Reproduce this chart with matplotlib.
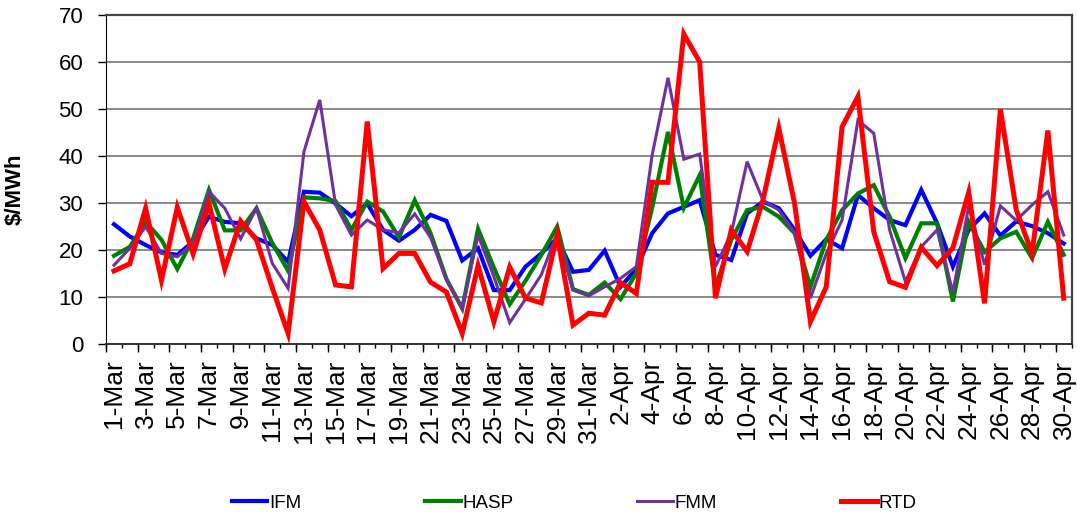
import matplotlib
matplotlib.use('Agg')
import matplotlib.pyplot as plt

plt.rcParams['font.family'] = ['Liberation Sans', 'DejaVu Sans']

# categories: daily, 1-Mar .. 30-Apr
DAYS = [f'{d}-Mar' for d in range(1, 32)] + [f'{d}-Apr' for d in range(1, 31)]

IFM = [25.5, 22.9, 21.1, 19.5, 19.0, 21.8, 27.1, 26.0, 25.7, 22.5, 21.1, 17.5, 32.4, 32.2,
       29.9, 27.2, 29.9, 24.3, 22.0, 24.3, 27.5, 26.2, 17.8, 20.4, 11.5, 11.5, 16.5, 19.3, 22.5,
       15.4, 15.8, 19.9, 12.2, 16.0, 23.6, 27.8, 29.2, 30.6, 19.0, 17.9, 27.8, 30.3, 28.9, 24.3,
       18.8, 22.3, 20.4, 31.7, 28.9, 26.4, 25.3, 32.8, 25.7, 16.5, 24.3, 27.8, 23.1, 26.1, 25.1,
       23.6, 21.4]
HASP = [18.8, 20.7, 26.0, 22.2, 16.0, 22.5, 32.8, 24.2, 24.2, 28.9, 21.5, 15.6, 31.2, 31.0,
        30.4, 24.3, 30.3, 28.2, 22.7, 30.6, 23.6, 13.9, 7.6, 24.5, 16.3, 8.5, 13.5, 19.0, 25.0,
        11.7, 10.5, 13.1, 9.6, 15.1, 29.0, 45.1, 29.0, 35.9, 12.2, 22.2, 28.5, 29.2, 27.1, 23.6,
        12.2, 22.2, 28.5, 32.0, 33.8, 27.1, 18.3, 25.7, 25.7, 9.1, 26.0, 19.6, 22.5, 23.9, 18.3,
        26.0, 19.0]
FMM = [16.8, 20.4, 25.0, 19.3, 18.6, 21.4, 32.4, 28.9, 22.4, 28.9, 17.2, 11.9, 40.9, 51.9,
       29.6, 23.2, 26.4, 24.3, 23.7, 27.7, 22.7, 13.7, 7.6, 23.2, 14.4, 4.6, 9.6, 14.8, 23.6,
       11.5, 10.3, 12.2, 14.0, 16.5, 40.2, 56.6, 39.3, 40.4, 16.5, 23.6, 38.8, 30.6, 28.5, 23.6,
       9.8, 19.3, 26.4, 47.6, 44.8, 24.3, 13.3, 20.7, 24.3, 11.0, 29.4, 16.9, 29.4, 26.3, 29.6,
       32.4, 23.2]
RTD = [15.6, 17.1, 28.9, 13.6, 29.1, 19.2, 29.9, 16.0, 26.2, 22.2, 12.0, 2.3, 30.3, 24.3,
       12.6, 12.2, 47.3, 16.1, 19.3, 19.3, 13.2, 11.1, 2.3, 16.7, 4.8, 16.4, 9.8, 8.8, 23.2,
       4.1, 6.6, 6.2, 13.1, 10.8, 34.4, 34.4, 65.9, 60.0, 9.8, 24.3, 19.7, 30.6, 45.9, 29.9,
       4.8, 12.2, 46.2, 52.6, 23.9, 13.3, 12.1, 20.6, 16.7, 20.5, 32.3, 8.7, 49.9, 28.6, 19.3,
       45.4, 9.8]

fig = plt.figure(figsize=(10.77, 5.17), dpi=100)
ax = fig.add_axes([0.0985, 0.334, 0.8965, 0.6376])

x = list(range(len(DAYS)))
ax.plot(x, IFM, color='#0000ff', lw=3.0, label='IFM', solid_joinstyle='miter')
ax.plot(x, HASP, color='#008000', lw=3.0, label='HASP', solid_joinstyle='miter')
ax.plot(x, FMM, color='#7030a0', lw=2.2, label='FMM', solid_joinstyle='miter')
ax.plot(x, RTD, color='#ff0000', lw=3.6, label='RTD', solid_joinstyle='miter')

ax.set_xlim(-0.5, len(DAYS) - 0.5)
ax.set_ylim(0, 70)
ax.set_yticks(range(0, 71, 10))
ax.yaxis.grid(True, color='#6a6a6a', lw=1.1)
ax.set_axisbelow(True)

# labels every second day, tick marks on category boundaries
ax.set_xticks(x[::2])
ax.set_xticklabels(DAYS[::2], rotation=90, fontsize=19)
ax.tick_params(axis='x', length=0, pad=11)
ax.set_xticks([i - 0.5 for i in range(len(DAYS) + 1)], minor=True)
ax.tick_params(axis='x', which='minor', length=3, width=1, direction='out')
sec = ax.secondary_xaxis('bottom')
sec.set_xticks([i - 0.5 for i in range(0, len(DAYS) + 1, 2)])
sec.set_xticklabels([])
sec.tick_params(length=5.5, width=1, direction='out')
sec.spines['bottom'].set_visible(False)

ax.tick_params(axis='y', labelsize=16, length=5.5, width=1, direction='out', pad=11)
ax.set_ylabel('$/MWh', fontsize=16, fontweight='bold')
ax.yaxis.set_label_coords(-0.083, 0.47)

for side in ['top', 'right']:
    ax.spines[side].set_color('#444444')
    ax.spines[side].set_linewidth(1.6)
ax.spines['left'].set_color('black')
ax.spines['bottom'].set_color('#333333')
ax.spines['bottom'].set_linewidth(1.4)

fig.legend(loc='center', bbox_to_anchor=(574 / 1077, 1 - 503 / 517), ncol=4,
           frameon=False, fontsize=13.5, handlelength=1.9, handletextpad=0.1,
           columnspacing=6.6, borderpad=0)

fig.savefig('out.png', dpi=100)
